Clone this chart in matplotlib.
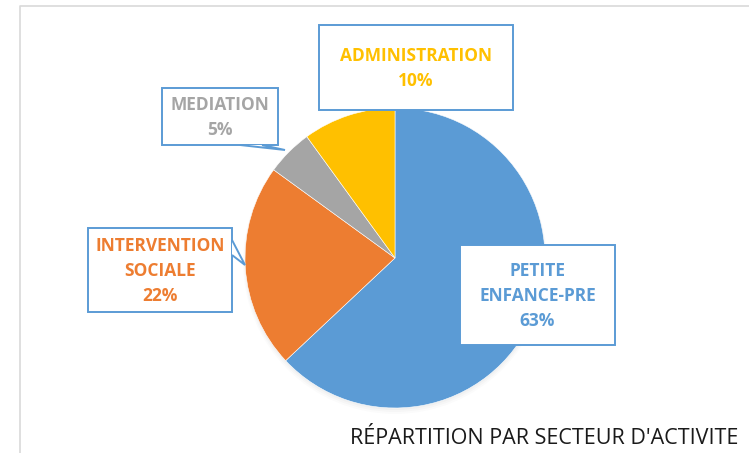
import matplotlib
matplotlib.use("Agg")
import matplotlib.pyplot as plt
from matplotlib.patches import Polygon, Rectangle, Circle

categories = ["PETITE\nENFANCE-PRE", "INTERVENTION\nSOCIALE", "MEDIATION", "ADMINISTRATION"]
values = [63, 22, 5, 10]
colors = ["#5B9BD5", "#ED7D31", "#A5A5A5", "#FFC000"]
text_colors = ["#5B9BD5", "#ED7D31", "#A5A5A5", "#FFC000"]
title = "RÉPARTITION PAR SECTEUR D'ACTIVITE"

W, H = 749, 453
fig = plt.figure(figsize=(W / 100, H / 100), dpi=100)
ax = fig.add_axes([0, 0, 1, 1])
ax.set_xlim(0, W)
ax.set_ylim(0, H)
ax.axis("off")

def Y(y):
    return H - y

# outer frame
ax.plot([20, 20, W], [Y(H), Y(6), Y(6)], color="#D9D9D9", lw=1.2)

cx, cy, r = 395, Y(258), 150
# soft shadow
for i, a in enumerate([0.025, 0.02, 0.015]):
    ax.add_patch(Circle((cx, cy - 2 - i), r + i, color="#000000", alpha=a, lw=0))
ax.pie(values, colors=colors, startangle=90, counterclock=False, center=(cx, cy),
       radius=r, wedgeprops=dict(edgecolor="white", linewidth=0.4), frame=True)
ax.set_xlim(0, W)
ax.set_ylim(0, H)
ax.axis("off")
ax.set_aspect("equal")

edge = "#5B9BD5"
# boxes: (x0, y0, x1, y1) in pixel coordinates, pointer polygon
boxes = {
    0: (460, 245, 615, 345, None),
    1: (88, 228, 232, 312, [(232, 240), (245, 265), (232, 255)]),
    2: (162, 88, 278, 145, [(240, 145), (285, 150), (262, 145)]),
    3: (319, 25, 513, 110, None),
}
font = ["Open Sans", "DejaVu Sans"]
for i, (x0, y0, x1, y1, ptr) in boxes.items():
    ax.add_patch(Rectangle((x0, Y(y1)), x1 - x0, y1 - y0, facecolor="white",
                           edgecolor=edge, lw=1.4, zorder=5))
    if ptr:
        ax.add_patch(Polygon([(px, Y(py)) for px, py in ptr], closed=False,
                             facecolor="white", edgecolor=edge, lw=1.4, zorder=6))
    ax.text((x0 + x1) / 2, Y((y0 + y1) / 2 + 1), f"{categories[i]}\n{values[i]}%",
            ha="center", va="center", color=text_colors[i], fontsize=12.5,
            fontweight="bold", family=font, linespacing=1.48, zorder=7)

ax.text(738, Y(438), title, ha="right", va="center", fontsize=15.5,
        color="#1a1a1a", family=font)

fig.savefig("out.png", dpi=100)
